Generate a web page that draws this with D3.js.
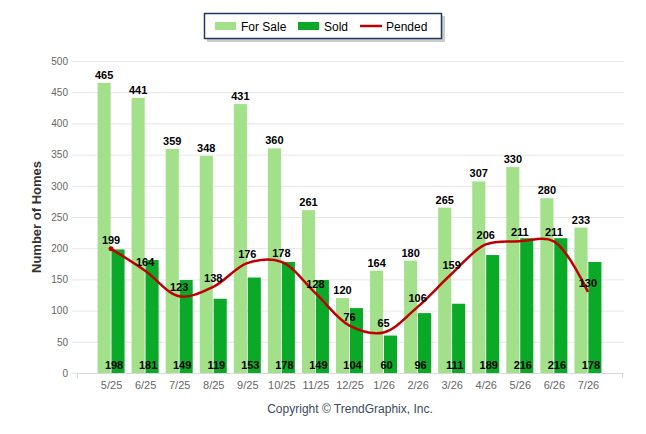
<!DOCTYPE html>
<html>
<head>
<meta charset="utf-8">
<script src="https://cdn.jsdelivr.net/npm/d3@7"></script>
<style>
  body { margin: 0; background: #fff; }
  svg { font-family: "Liberation Sans", Arial, sans-serif; }
</style>
</head>
<body>
<div id="chart"></div>
<script>
// chart data
const MONTHS = ['5/25', '6/25', '7/25', '8/25', '9/25', '10/25', '11/25', '12/25',
  '1/26', '2/26', '3/26', '4/26', '5/26', '6/26', '7/26'];
const FOR_SALE = [465, 441, 359, 348, 431, 360, 261, 120, 164, 180, 265, 307, 330, 280, 233];
const SOLD = [198, 181, 149, 119, 153, 178, 149, 104, 60, 96, 111, 189, 216, 216, 178];
const PENDED = [199, 164, 123, 138, 176, 178, 128, 76, 65, 106, 159, 206, 211, 211, 130];
const Y_TICKS = [0, 50, 100, 150, 200, 250, 300, 350, 400, 450, 500];

const WIDTH = 646;
const HEIGHT = 434;
const PLOT = { left: 77, right: 622, top: 61, bottom: 373 };
const COLORS = { forSale: '#a2e08a', sold: '#0aa928', pended: '#c00000' };

const svg = d3.select('#chart')
  .append('svg')
  .attr('width', WIDTH)
  .attr('height', HEIGHT);

// scales
const xScale = d3.scalePoint()
  .domain(MONTHS)
  .range([PLOT.left, PLOT.right])
  .padding(1);

const subScale = d3.scaleBand()
  .domain(['forSale', 'sold'])
  .range([-13.5, 13.5])
  .paddingInner(0.06);

const yScale = d3.scaleLinear()
  .domain([0, 500])
  .range([PLOT.bottom, PLOT.top]);

// gridlines
svg.append('g')
  .selectAll('line')
  .data(Y_TICKS)
  .join('line')
  .attr('x1', 72)
  .attr('x2', 624)
  .attr('y1', d => yScale(d) + 0.5)
  .attr('y2', d => yScale(d) + 0.5)
  .attr('stroke', '#e6e6e6')
  .attr('stroke-width', 1);

// y axis labels
const yAxis = d3.axisLeft(yScale).tickValues(Y_TICKS).tickSize(0).tickPadding(0);
svg.append('g')
  .attr('class', 'yAxis')
  .attr('transform', 'translate(68, 0)')
  .call(yAxis)
  .call(g => g.select('.domain').remove())
  .selectAll('text')
  .attr('fill', '#666')
  .attr('font-size', 10)
  .attr('font-family', '"Liberation Sans", Arial, sans-serif');

// x axis line with end ticks
svg.append('line')
  .attr('x1', PLOT.left).attr('x2', PLOT.right)
  .attr('y1', PLOT.bottom + 0.5).attr('y2', PLOT.bottom + 0.5)
  .attr('stroke', '#d8d8d8');
svg.append('g')
  .selectAll('line')
  .data([PLOT.left, PLOT.right])
  .join('line')
  .attr('x1', d => d + 0.5).attr('x2', d => d + 0.5)
  .attr('y1', PLOT.bottom).attr('y2', PLOT.bottom + 5)
  .attr('stroke', '#d8d8d8');

const xAxis = d3.axisBottom(xScale).tickSize(0).tickPadding(0);
svg.append('g')
  .attr('class', 'xAxis')
  .attr('transform', `translate(0, ${PLOT.bottom + 8})`)
  .call(xAxis)
  .call(g => g.select('.domain').remove())
  .selectAll('text')
  .attr('fill', '#666')
  .attr('font-size', 11)
  .attr('font-family', '"Liberation Sans", Arial, sans-serif');

// bars
const rows = MONTHS.map((m, i) => ({ month: m, forSale: FOR_SALE[i], sold: SOLD[i], pended: PENDED[i] }));

svg.append('g')
  .selectAll('rect')
  .data(rows)
  .join('rect')
  .attr('x', d => xScale(d.month) + subScale('forSale'))
  .attr('width', subScale.bandwidth())
  .attr('y', d => yScale(d.forSale))
  .attr('height', d => yScale(0) - yScale(d.forSale))
  .attr('fill', COLORS.forSale);

svg.append('g')
  .selectAll('rect')
  .data(rows)
  .join('rect')
  .attr('x', d => xScale(d.month) + subScale('sold'))
  .attr('width', subScale.bandwidth())
  .attr('y', d => yScale(d.sold))
  .attr('height', d => yScale(0) - yScale(d.sold))
  .attr('fill', COLORS.sold);

// pended spline
const line = d3.line()
  .x(d => xScale(d.month))
  .y(d => yScale(d.pended))
  .curve(d3.curveCatmullRom.alpha(0.5));

svg.append('path')
  .datum(rows)
  .attr('d', line)
  .attr('fill', 'none')
  .attr('stroke', COLORS.pended)
  .attr('stroke-width', 2.5);

svg.append('circle')
  .attr('cx', xScale(rows[0].month))
  .attr('cy', yScale(rows[0].pended))
  .attr('r', 2.5)
  .attr('fill', COLORS.pended);

// data labels
const labelStyle = sel => sel
  .attr('text-anchor', 'middle')
  .attr('font-size', 11)
  .attr('font-weight', 'bold')
  .attr('fill', '#000');

svg.append('g')
  .selectAll('text')
  .data(rows)
  .join('text')
  .attr('x', d => xScale(d.month) + subScale('forSale') + subScale.bandwidth() / 2)
  .attr('y', d => yScale(d.forSale) - 4)
  .text(d => d.forSale)
  .call(labelStyle);

svg.append('g')
  .selectAll('text')
  .data(rows)
  .join('text')
  .attr('x', d => xScale(d.month) + 3)
  .attr('y', PLOT.bottom - 4)
  .text(d => d.sold)
  .call(labelStyle);

svg.append('g')
  .selectAll('text')
  .data(rows)
  .join('text')
  .attr('x', d => xScale(d.month))
  .attr('y', d => yScale(d.pended) - 5)
  .text(d => d.pended)
  .call(labelStyle);

// y axis title
svg.append('text')
  .attr('transform', `translate(41, ${(PLOT.top + PLOT.bottom) / 2}) rotate(-90)`)
  .attr('text-anchor', 'middle')
  .attr('font-size', 13)
  .attr('font-weight', 'bold')
  .attr('fill', '#333')
  .text('Number of Homes');

// copyright
svg.append('text')
  .attr('x', 350)
  .attr('y', 413)
  .attr('text-anchor', 'middle')
  .attr('font-size', 12)
  .attr('fill', '#3c4a5e')
  .text('Copyright \u00A9 TrendGraphix, Inc.');

// legend
const legend = svg.append('g').attr('transform', 'translate(204, 13)');
legend.append('rect')
  .attr('x', 3).attr('y', 3)
  .attr('width', 238).attr('height', 26)
  .attr('fill', '#aaa')
  .attr('opacity', 0.6);
legend.append('rect')
  .attr('x', 0.5).attr('y', 0.5)
  .attr('width', 237).attr('height', 25)
  .attr('fill', '#fff')
  .attr('stroke', '#1f3864')
  .attr('stroke-width', 1.5);

const legendItems = [
  { name: 'For Sale', color: COLORS.forSale, type: 'rect', x: 11 },
  { name: 'Sold', color: COLORS.sold, type: 'rect', x: 94 },
  { name: 'Pended', color: COLORS.pended, type: 'line', x: 156 }
];

legendItems.forEach(item => {
  const g = legend.append('g').attr('transform', `translate(${item.x}, 0)`);
  if (item.type === 'rect') {
    g.append('rect')
      .attr('x', 0).attr('y', 9)
      .attr('width', 21).attr('height', 8)
      .attr('fill', item.color);
  } else {
    g.append('line')
      .attr('x1', 0).attr('x2', 22)
      .attr('y1', 13).attr('y2', 13)
      .attr('stroke', item.color)
      .attr('stroke-width', 2.5);
  }
  g.append('text')
    .attr('x', 26)
    .attr('y', 17.5)
    .attr('font-size', 12)
    .attr('fill', '#000')
    .text(item.name);
});
</script>
</body>
</html>
